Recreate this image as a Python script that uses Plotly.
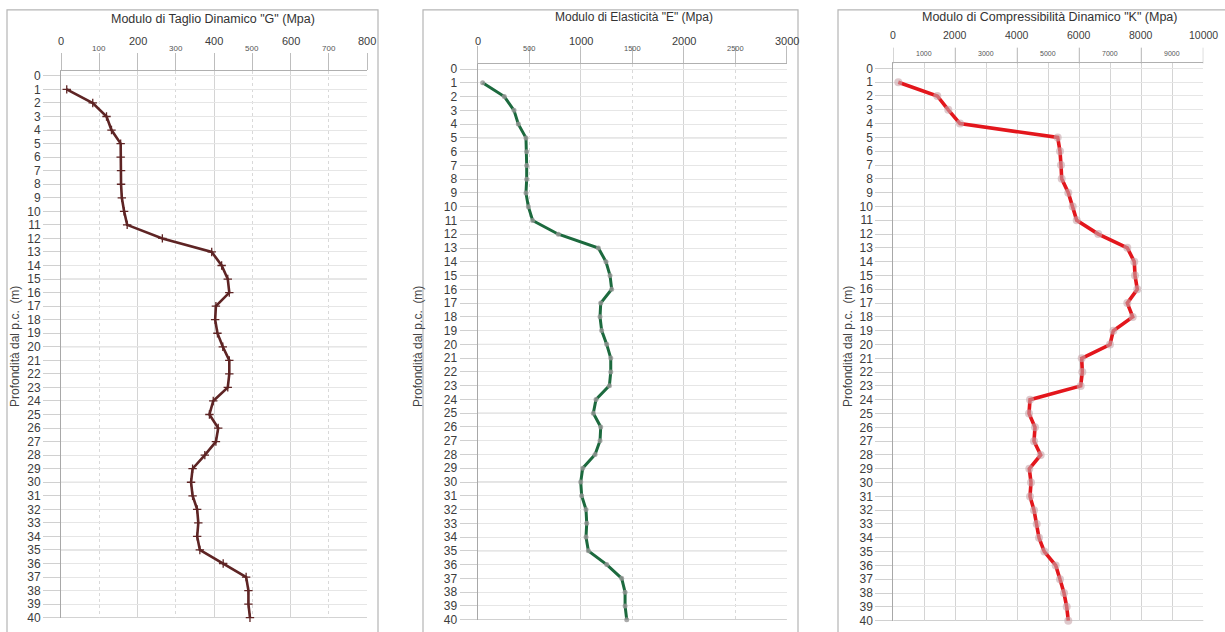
import plotly.graph_objects as go

# Depth below ground level (m)
depth = list(range(1, 41))

# Dynamic shear modulus G (MPa)
g_mod = [15, 83, 119, 132, 156, 156, 157, 157, 159, 165,
         173, 265, 394, 420, 436, 440, 405, 403, 409, 423,
         440, 440, 436, 398, 388, 411, 405, 376, 344, 340,
         344, 356, 359, 356, 363, 424, 484, 490, 490, 494]

# Elastic modulus E (MPa)
e_mod = [50, 260, 354, 396, 470, 477, 477, 477, 470, 493,
         535, 784, 1172, 1246, 1285, 1301, 1195, 1188, 1204, 1253,
         1292, 1292, 1279, 1149, 1123, 1195, 1188, 1140, 1020, 1001,
         1010, 1052, 1059, 1052, 1075, 1253, 1398, 1431, 1431, 1447]

# Dynamic bulk modulus K (MPa)
k_mod = [161, 1419, 1774, 2151, 5303, 5377, 5410, 5432, 5645, 5787,
         5916, 6613, 7548, 7774, 7797, 7871, 7548, 7723, 7097, 6990,
         6077, 6097, 6045, 4410, 4377, 4571, 4539, 4755, 4387, 4442,
         4410, 4539, 4626, 4700, 4871, 5239, 5377, 5506, 5594, 5645]

titles = ['Modulo di Taglio Dinamico "G" (Mpa)',
          'Modulo di Elasticità "E" (Mpa)',
          'Modulo di Compressibilità Dinamico "K" (Mpa)']
y_title = "Profondità dal p.c.  (m)"

g_major = [0, 200, 400, 600, 800]
g_minor = [100, 300, 500, 700]
e_major = [0, 1000, 2000, 3000]
e_minor = [500, 1500, 2500]
k_major = [0, 2000, 4000, 6000, 8000, 10000]
k_minor = [1000, 3000, 5000, 7000, 9000]

W, H = 1225, 632
FONT = "Liberation Sans, Arial, sans-serif"
TXT = "#3c3c3c"


def py(p):
    """pixel row -> paper y"""
    return 1 - p / H


def px(p):
    return p / W


fig = go.Figure()

panels = [
    dict(vals=g_mod, color="#5e2424", width=2.6,
         marker=dict(symbol="cross-thin", size=6, line=dict(width=1.3, color="#5e2424")),
         xdom=(61, 367), ytop=70, ybot=625, xmax=800,
         major=g_major, minor=g_minor, gdt=200, mdt=100, mdash="dot",
         maj_y=40, min_y=47, maj_size=11, min_size=8,
         title_x=213, title_y=17, title_size=12.5, ytitle_x=15, box=(7, 378)),
    dict(vals=e_mod, color="#1c6a3e", width=3,
         marker=dict(symbol="circle", size=5, color="rgba(150,150,150,0.8)"),
         xdom=(477.5, 786.9), ytop=63, ybot=627, xmax=3000,
         major=e_major, minor=e_minor, gdt=1000, mdt=500, mdash="dot",
         maj_y=40, min_y=47, maj_size=11, min_size=7.5,
         title_x=634, title_y=15, title_size=12, ytitle_x=418, box=(423, 798)),
    dict(vals=k_mod, color="#e3161c", width=3.6,
         marker=dict(symbol="circle", size=8, color="rgba(200,165,170,0.6)"),
         xdom=(893.3, 1203.3), ytop=62.3, ybot=628, xmax=10000,
         major=k_major, minor=k_minor, gdt=1000, mdt=None, mdash="solid",
         maj_y=33, min_y=52, maj_size=10.5, min_size=7,
         title_x=1050, title_y=15, title_size=12.5, ytitle_x=848, box=(838, 1232)),
]

shapes = []
annotations = []

for i, p in enumerate(panels):
    n = "" if i == 0 else str(i + 1)
    xa, ya = "x" + n, "y" + n
    fig.add_trace(go.Scatter(
        x=p["vals"], y=depth, xaxis=xa, yaxis=ya, mode="lines+markers",
        line=dict(color=p["color"], width=p["width"]),
        marker=p["marker"], cliponaxis=False, showlegend=False))

    if p["mdt"] is not None:
        minor = dict(dtick=p["mdt"], showgrid=True, gridcolor="#d9d9d9", griddash=p["mdash"],
                     gridwidth=1, ticks="outside", ticklen=17, tickcolor="#bdbdbd")
        major_ticks = "outside"
    else:
        minor = dict(showgrid=False)
        major_ticks = ""

    xaxis = dict(domain=[px(p["xdom"][0]), px(p["xdom"][1])], range=[0, p["xmax"]],
                 side="top", anchor=ya, showticklabels=False,
                 dtick=p["gdt"], tick0=0, showgrid=True, gridcolor="#d4d4d4", gridwidth=1,
                 ticks=major_ticks, ticklen=17, tickcolor="#bdbdbd",
                 showline=True, linecolor="#b0b0b0", linewidth=1,
                 minor=minor, zeroline=False, fixedrange=True)
    if i == 2:
        # tick marks only every 2000 while the grid runs every 1000
        for v in k_major:
            shapes.append(dict(type="line", xref=xa, yref="paper", x0=v, x1=v,
                               y0=py(p["ytop"]), y1=py(p["ytop"] - 16),
                               line=dict(color="#b5b5b5", width=1)))
    yaxis = dict(domain=[py(p["ybot"]), py(p["ytop"])], range=[40.03, -0.36],
                 anchor=xa, tickmode="array", tickvals=list(range(0, 41)),
                 ticktext=[str(v) for v in range(0, 41)],
                 tickfont=dict(family=FONT, size=12, color=TXT),
                 ticks="outside", ticklen=17, tickcolor="#d0d0d0",
                 showgrid=True, gridcolor="#e6e6e6", gridwidth=1,
                 showline=True, linecolor="#a8a8a8", linewidth=1,
                 zeroline=False, fixedrange=True)
    fig.update_layout(**{"xaxis" + n: xaxis, "yaxis" + n: yaxis})

    # stronger grid every 5 m
    for d in range(5, 41, 5):
        shapes.append(dict(type="line", xref=xa + " domain", yref=ya, x0=0, x1=1,
                           y0=d, y1=d, line=dict(color="#c9c9c9", width=1), layer="below"))

    # top tick labels: large and small rows
    for v in p["major"]:
        annotations.append(dict(x=v, y=py(p["maj_y"]), xref=xa, yref="paper",
                                text=str(v), showarrow=False, xanchor="center", yanchor="middle",
                                font=dict(family=FONT, size=p["maj_size"], color=TXT)))
    for v in p["minor"]:
        annotations.append(dict(x=v, y=py(p["min_y"]), xref=xa, yref="paper",
                                text=str(v), showarrow=False, xanchor="center", yanchor="middle",
                                font=dict(family=FONT, size=p["min_size"], color="#555555")))

    annotations.append(dict(x=px(p["title_x"]), y=py(p["title_y"]), xref="paper", yref="paper",
                            text=titles[i], showarrow=False, xanchor="center", yanchor="middle",
                            font=dict(family=FONT, size=p["title_size"], color="#333333")))
    annotations.append(dict(x=px(p["ytitle_x"]), y=py(350), xref="paper", yref="paper",
                            text=y_title, showarrow=False, textangle=-90,
                            xanchor="center", yanchor="middle",
                            font=dict(family=FONT, size=12, color="#444444")))

    shapes.append(dict(type="rect", xref="paper", yref="paper",
                       x0=px(p["box"][0]), x1=px(p["box"][1]), y0=py(645), y1=py(8),
                       line=dict(color="#b5b5b5", width=1.2), layer="below"))

fig.update_layout(width=W, height=H, margin=dict(l=0, r=0, t=0, b=0),
                  paper_bgcolor="white", plot_bgcolor="white",
                  shapes=shapes, annotations=annotations,
                  font=dict(family=FONT, color=TXT))

fig.write_html("out.html")
